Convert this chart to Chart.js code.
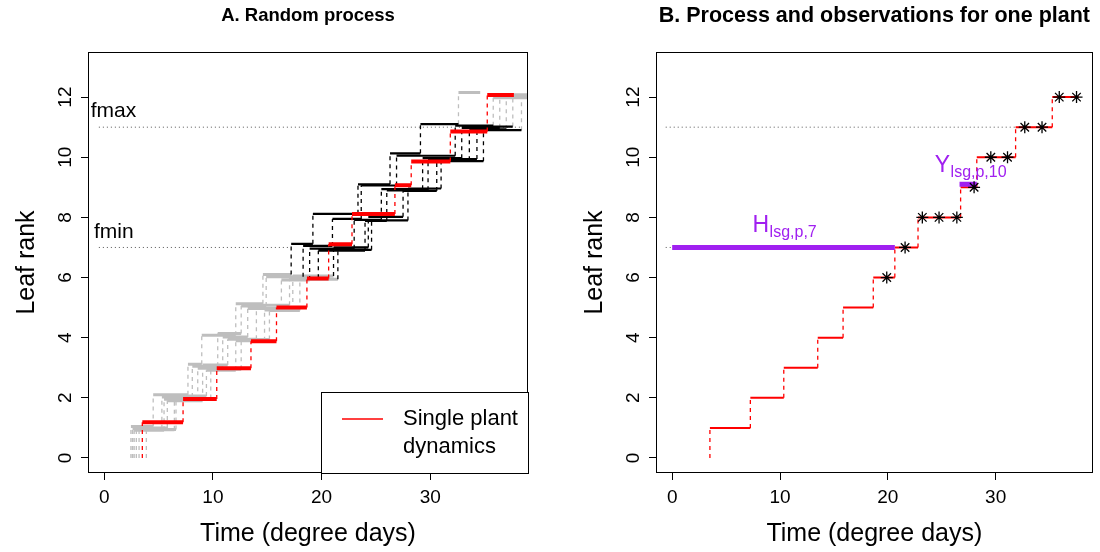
<!DOCTYPE html>
<html>
<head>
<meta charset="utf-8">
<script src="https://cdn.jsdelivr.net/npm/chart.js@4.4.1/dist/chart.umd.min.js"></script>
<style>
  body { margin: 0; background: #fff; }
  #wrap { position: relative; width: 1100px; height: 552px; }
  #chartA { position: absolute; left: 0; top: 0; }
  #chartB { position: absolute; left: 550px; top: 0; }
</style>
</head>
<body>
<div id="wrap">
  <canvas id="chartA" width="550" height="552"></canvas>
  <canvas id="chartB" width="550" height="552"></canvas>
</div>
<script>
const rankLevels = [1, 2, 3, 4, 5, 6, 7, 8, 9, 10, 11, 12]
const xTicks = [0, 10, 20, 30]
const yTicks = [0, 2, 4, 6, 8, 10, 12]
const fmin = 7, fmax = 11

// times (degree days) at which each simulated plant reaches rank 1..12
const plantSteps = [
  [2.45, 4.5, 7.7, 8.97, 12.1, 14.6, 17.2, 19.2, 23.35, 26.3, 29.1, 32.6],
  [2.6, 5.3, 8.1, 10.44, 12.6, 14.9, 18.3, 21.0, 23.65, 26.9, 32.3, 35.8],
  [2.75, 5.5, 8.6, 10.9, 13.2, 16.3, 18.9, 23.0, 25.5, 29.3, 32.9, 36.4],
  [2.95, 5.8, 9.05, 11.36, 14.0, 17.05, 19.7, 24.0, 26.0, 29.8, 33.6, 37.0],
  [3.2, 6.45, 9.4, 12.1, 14.75, 17.35, 21.1, 24.3, 27.5, 30.6, 34.3, 37.6],
  [3.87, 6.6, 9.8, 12.6, 15.2, 18.0, 21.5, 24.6, 27.95, 31.0, 34.9, 38.4]
]
const plantEnd = [34.6, 40, 40, 40, 40, 40]
// small vertical offsets so the plants do not overlap
const plantJitter = [
  [0.05, 0.10, 0.12, 0.08, 0.13, 0.10, 0.12, 0.12, 0.10, 0.13, 0.10, 0.15],
  [-0.03, 0.03, 0.05, 0.14, 0.05, 0.03, 0.05, -0.05, 0.06, 0.05, 0.05, -0.02],
  [-0.08, -0.05, -0.02, 0.02, -0.03, -0.08, -0.04, -0.08, -0.06, -0.03, -0.02, 0.05],
  [0.00, -0.10, 0.09, -0.05, 0.08, -0.02, -0.11, -0.12, -0.10, -0.10, -0.07, 0.00],
  [-0.06, 0.06, -0.08, -0.10, -0.08, 0.05, 0.00, 0.02, -0.12, -0.06, 0.02, 0.08],
  [-0.05, -0.02, -0.05, -0.06, -0.10, -0.06, -0.08, -0.10, -0.04, -0.13, -0.10, 0.03]
]

// the single plant (red)
const singleSteps = [3.5, 7.25, 10.35, 13.5, 15.85, 18.65, 20.65, 22.8, 26.75, 28.25, 31.85, 35.25]
const singleEnd = 37.7
const singleJitter = [0.19, -0.04, -0.02, -0.12, 0.0, -0.03, 0.11, 0.11, 0.07, -0.14, -0.14, 0.07]

// observations of the single plant (panel B)
const obsTimes = [19.9, 21.6, 23.2, 24.75, 26.4, 28.0, 29.55, 31.1, 32.7, 34.3, 35.9, 37.5]
const obsRanks = [6, 7, 8, 8, 8, 9, 10, 10, 11, 11, 12, 12]
const yObsSeg = [26.65, 28.25]
const yObsLevel = 9.1

const FONT = '"Liberation Sans", Arial, sans-serif'
const GRAY = '#bebebe', RED = '#ff0000', PURPLE = '#a020f0'

function segs(list) {
  const out = []
  list.forEach(s => { out.push({x: s[0], y: s[1]}, {x: s[2], y: s[3]}, {x: null, y: null}) })
  return out
}

function lineSet(list, color, width, dash) {
  return {
    data: segs(list), showLine: true, pointRadius: 0, borderColor: color,
    borderWidth: width, borderDash: dash || [], spanGaps: false, fill: false
  }
}

// ---- panel A segments
const grayH = [], blackH = [], grayV = [], blackV = []
plantSteps.forEach((steps, p) => {
  steps.forEach((t, k) => {
    const lev = rankLevels[k]
    const y = lev + plantJitter[p][k]
    const y0 = k == 0 ? 0 : rankLevels[k - 1] + plantJitter[p][k - 1]
    const t1 = k < steps.length - 1 ? steps[k + 1] : plantEnd[p]
    const dark = lev >= fmin && lev <= fmax
    ;(dark ? blackV : grayV).push([t, y0, t, y])
    ;(dark ? blackH : grayH).push([t, y, t1, y])
  })
})
const redHA = [], redVA = []
singleSteps.forEach((t, k) => {
  const y = rankLevels[k] + singleJitter[k]
  const y0 = k == 0 ? 0 : rankLevels[k - 1] + singleJitter[k - 1]
  const t1 = k < singleSteps.length - 1 ? singleSteps[k + 1] : singleEnd
  redVA.push([t, y0, t, y])
  redHA.push([t, y, t1, y])
})

// ---- panel B segments
const redHB = [], redVB = []
singleSteps.forEach((t, k) => {
  const t1 = k < singleSteps.length - 1 ? singleSteps[k + 1] : singleEnd
  redVB.push([t, k == 0 ? 0 : rankLevels[k - 1], t, rankLevels[k]])
  redHB.push([t, rankLevels[k], t1, rankLevels[k]])
})

function scalesFor(yWidth) {
  return {
    x: {
      type: 'linear', min: -1.5, max: 39,
      afterBuildTicks: s => { s.ticks = xTicks.map(v => ({value: v})) },
      afterFit: s => { s.height = 79 },
      border: {display: false},
      grid: {drawOnChartArea: false, drawTicks: true, tickLength: 7, color: '#000', tickWidth: 1},
      ticks: {color: '#000', font: {family: FONT, size: 19}, padding: 6, maxRotation: 0},
      title: {display: true, text: 'Time (degree days)', color: '#000', font: {family: FONT, size: 25}, padding: {top: 0, bottom: 3}}
    },
    y: {
      type: 'linear', min: -0.5, max: 13.5,
      afterBuildTicks: s => { s.ticks = yTicks.map(v => ({value: v})) },
      afterFit: s => { s.width = yWidth },
      border: {display: false},
      grid: {drawOnChartArea: false, drawTicks: true, tickLength: 7, color: '#000', tickWidth: 1},
      ticks: {color: 'rgba(0,0,0,0)', font: {family: FONT, size: 19}},
      title: {display: true, text: 'Leaf rank', color: '#000', font: {family: FONT, size: 25}, padding: {top: yWidth - 76, bottom: 0}}
    }
  }
}

function framePlugin(extra) {
  return {
    id: 'frame',
    afterDraw(chart) {
      const {ctx, chartArea: a, scales} = chart
      ctx.save()
      ctx.strokeStyle = '#000'
      ctx.lineWidth = 1
      ctx.strokeRect(Math.round(a.left) + 0.5, Math.round(a.top) + 0.5, Math.round(a.width) - 1, Math.round(a.height) - 1)
      ctx.fillStyle = '#000'
      ctx.font = '19px ' + FONT
      ctx.textAlign = 'center'
      ctx.textBaseline = 'middle'
      yTicks.forEach(v => {
        ctx.save()
        ctx.translate(a.left - 22, scales.y.getPixelForValue(v))
        ctx.rotate(-Math.PI / 2)
        ctx.fillText(String(v), 0, 0)
        ctx.restore()
      })
      extra(ctx, scales, a)
      ctx.restore()
    }
  }
}

function baseOptions(title, titleSize, yWidth, rightPad) {
  return {
    responsive: false, animation: false, events: [], devicePixelRatio: 1,
    layout: {padding: {top: 0, right: rightPad, bottom: 0, left: 0}},
    plugins: {
      legend: {display: false}, tooltip: {enabled: false},
      title: {display: true, text: title, color: '#000', fullSize: false,
        font: {family: FONT, size: titleSize, weight: 'bold'},
        padding: {top: 16 - titleSize * 0.6, bottom: 36 - titleSize * 0.6}}
    },
    scales: scalesFor(yWidth)
  }
}

// ---------- Panel A
const setsA = [
  lineSet([[-0.5, fmin, 17.05, fmin]], '#555', 1, [1, 3]),
  lineSet([[-0.5, fmax, 38.5, fmax]], '#555', 1, [1, 3]),
  lineSet(grayV, GRAY, 1.3, [4, 4]),
  lineSet(grayH, GRAY, 3),
  lineSet(blackV, '#000', 1.3, [4, 4]),
  lineSet(blackH, '#000', 2.2),
  lineSet(redVA, RED, 1.3, [4, 4]),
  lineSet(redHA, RED, 4)
].reverse()

new Chart(document.getElementById('chartA'), {
  type: 'scatter',
  data: {datasets: setsA},
  options: baseOptions('A. Random process', 18.5, 88, 22),
  plugins: [framePlugin((ctx, s, a) => {
    ctx.textAlign = 'left'
    ctx.font = '21px ' + FONT
    ctx.fillText('fmax', s.x.getPixelForValue(-1.25), s.y.getPixelForValue(fmax + 0.52))
    ctx.fillText('fmin', s.x.getPixelForValue(-0.95), s.y.getPixelForValue(fmin + 0.5))
    // legend
    const lx = a.right - 207, ly = a.bottom - 81
    ctx.fillStyle = '#fff'
    ctx.fillRect(lx, ly, 207, 81)
    ctx.strokeStyle = '#000'
    ctx.lineWidth = 1
    ctx.strokeRect(lx + 0.5, ly + 0.5, 207, 81)
    ctx.strokeStyle = RED
    ctx.lineWidth = 1.5
    ctx.beginPath()
    ctx.moveTo(lx + 21, ly + 27)
    ctx.lineTo(lx + 62, ly + 27)
    ctx.stroke()
    ctx.fillStyle = '#000'
    ctx.font = '22px ' + FONT
    ctx.fillText('Single plant', lx + 82, ly + 27)
    ctx.fillText('dynamics', lx + 82, ly + 55)
  })]
})

// ---------- Panel B
const setsB = [
  lineSet([[-0.6, fmax, singleSteps[10], fmax]], '#555', 1, [1, 3]),
  lineSet([[-0.6, fmin, 0, fmin]], '#555', 1, [1, 3]),
  lineSet(redVB, RED, 1.3, [4, 4]),
  lineSet(redHB, RED, 2),
  lineSet([[0, fmin, singleSteps[6], fmin]], PURPLE, 5),
  lineSet([[yObsSeg[0], yObsLevel, yObsSeg[1], yObsLevel]], PURPLE, 5),
  {
    data: obsTimes.map((t, i) => ({x: t, y: obsRanks[i]})),
    showLine: false, pointStyle: 'star', pointRadius: 6, borderColor: '#000',
    backgroundColor: '#000', borderWidth: 1.3
  }
].reverse()

function subLabel(ctx, s, main, sub, x, y) {
  ctx.fillStyle = PURPLE
  ctx.textAlign = 'left'
  ctx.textBaseline = 'alphabetic'
  const px = s.x.getPixelForValue(x), py = s.y.getPixelForValue(y)
  ctx.font = '23px ' + FONT
  ctx.fillText(main, px, py)
  const w = ctx.measureText(main).width
  ctx.font = '16px ' + FONT
  ctx.fillText(sub, px + w + 0.5, py + 5)
}

new Chart(document.getElementById('chartB'), {
  type: 'scatter',
  data: {datasets: setsB},
  options: baseOptions('B. Process and observations for one plant', 21.5, 106, 4),
  plugins: [framePlugin((ctx, s, a) => {
    subLabel(ctx, s, 'H', 'lsg,p,7', 7.45, 7.52)
    subLabel(ctx, s, 'Y', 'lsg,p,10', 24.35, 9.52)
  })]
})
</script>
</body>
</html>
